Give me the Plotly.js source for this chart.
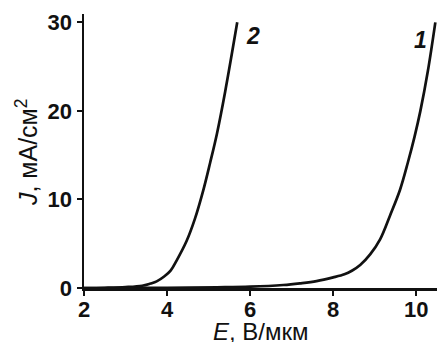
<!DOCTYPE html>
<html>
<head>
<meta charset="utf-8">
<script src="https://cdn.plot.ly/plotly-3.0.1.min.js"></script>
<style>html,body{margin:0;padding:0;background:#fff;}#chart{width:437px;height:342px;}</style>
</head>
<body>
<div id="chart"></div>
<script>
// Curve 1
const E1 = [2.0, 3.0, 4.0, 5.2, 6.0, 6.8, 7.2, 7.6, 8.0, 8.27, 8.45, 8.65, 8.89, 9.13, 9.37, 9.61, 9.80, 9.96, 10.10, 10.28, 10.46];
const J1 = [0.0, 0.0, 0.02, 0.08, 0.15, 0.34, 0.53, 0.78, 1.2, 1.55, 1.95, 2.6, 3.8, 5.5, 8.2, 11.1, 14.2, 17.1, 20.0, 24.5, 30.0];
// Curve 2
const E2 = [2.0, 2.5, 3.0, 3.4, 3.6, 3.75, 3.93, 4.09, 4.23, 4.47, 4.67, 4.87, 5.04, 5.20, 5.40, 5.69];
const J2 = [0.0, 0.03, 0.1, 0.25, 0.5, 0.75, 1.3, 2.0, 3.1, 5.3, 7.8, 11.0, 14.2, 17.4, 22.2, 30.0];

const curveLabels = ["1", "2"];
const labelE = [10.10, 6.06];
const labelJ = [28.0, 28.4];

const xTickVals = [2, 4, 6, 8, 10];
const yTickVals = [0, 10, 20, 30];
const xTitle = "<i>E</i>, В/мкм";
const yTitle = "<i>J</i>, мА/см<sup>2</sup>";

const lineStyle = {color: "#111", width: 2.7, shape: "spline", smoothing: 1};
const traces = [
  {x: E1, y: J1, mode: "lines", line: lineStyle, hoverinfo: "skip"},
  {x: E2, y: J2, mode: "lines", line: lineStyle, hoverinfo: "skip"}
];

const tickFont = {family: "Liberation Sans, Arial, sans-serif", size: 22, color: "#111", weight: "bold"};
const titleFont = {family: "Liberation Sans, Arial, sans-serif", size: 24, color: "#111"};

const annotations = curveLabels.map((t, i) => ({
  x: labelE[i], y: labelJ[i], xref: "x", yref: "y", text: "<i>" + t + "</i>",
  showarrow: false, xanchor: "center", yanchor: "middle",
  font: {family: "Liberation Sans, Arial, sans-serif", size: 23, color: "#111", weight: "bold"}
}));
annotations.push({
  x: 0.5, y: -0.104, xref: "paper", yref: "paper", text: xTitle, showarrow: false,
  xanchor: "center", yanchor: "top", font: titleFont
});
annotations.push({
  x: -0.1615, y: 0.496, xref: "paper", yref: "paper", text: yTitle, showarrow: false,
  textangle: -90, xanchor: "center", yanchor: "middle", font: {family: titleFont.family, size: 25, color: "#111"}
});

const layout = {
  width: 437, height: 342,
  margin: {l: 84, r: 0, t: 14, b: 54, pad: 0},
  paper_bgcolor: "#fff", plot_bgcolor: "#fff",
  showlegend: false,
  xaxis: {
    range: [2, 10.5], tickvals: xTickVals, ticktext: xTickVals.map(String),
    showline: true, linecolor: "#111", linewidth: 2.5, mirror: false,
    ticks: "outside", ticklen: 5, tickwidth: 2, tickcolor: "#111",
    ticklabelstandoff: -5,
    showgrid: false, zeroline: false, tickfont: tickFont, fixedrange: true
  },
  yaxis: {
    range: [0, 30.94], tickvals: yTickVals, ticktext: yTickVals.map(String),
    showline: true, linecolor: "#111", linewidth: 2.5, mirror: false,
    ticks: "outside", ticklen: 5, tickwidth: 2, tickcolor: "#111",
    showgrid: false, zeroline: false, tickfont: tickFont, fixedrange: true
  },
  annotations: annotations
};

Plotly.newPlot("chart", traces, layout, {displayModeBar: false, staticPlot: true});
</script>
</body>
</html>
